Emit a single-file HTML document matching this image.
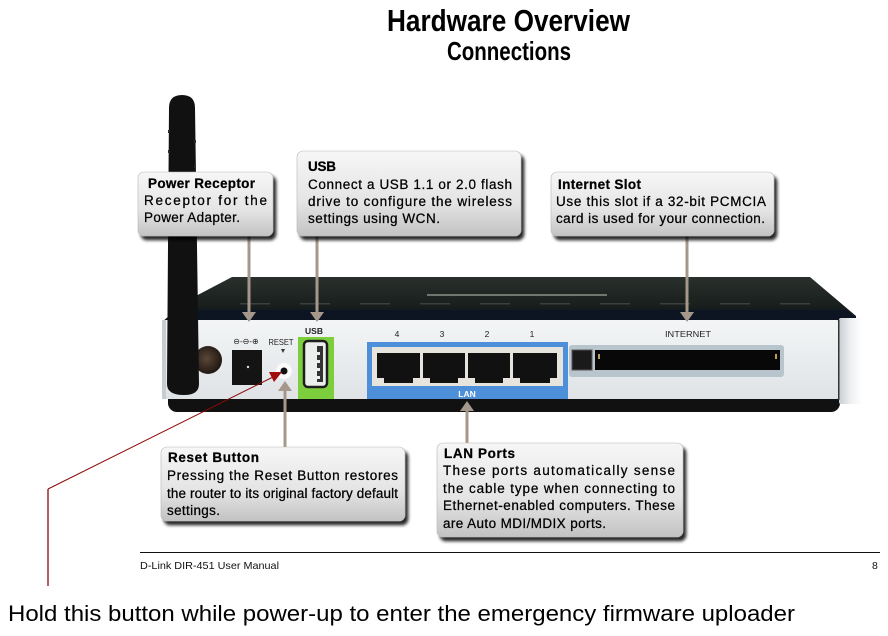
<!DOCTYPE html>
<html><head><meta charset="utf-8"><style>
html,body{margin:0;padding:0;background:#fff;}
svg{display:block;}
text{font-family:"Liberation Sans",Arial,sans-serif;}
</style></head><body>
<svg width="888" height="636" viewBox="0 0 888 636" xmlns="http://www.w3.org/2000/svg">
<defs>
<linearGradient id="boxg" x1="0" y1="0" x2="0" y2="1">
<stop offset="0" stop-color="#f6f6f6"/><stop offset="0.6" stop-color="#e4e4e4"/><stop offset="1" stop-color="#c2c2c2"/>
</linearGradient>
<linearGradient id="topg" x1="0" y1="0" x2="0" y2="1">
<stop offset="0" stop-color="#2a302c"/><stop offset="0.6" stop-color="#1a201d"/><stop offset="1" stop-color="#0b1220"/>
</linearGradient>
<linearGradient id="faceg" x1="0" y1="0" x2="0" y2="1">
<stop offset="0" stop-color="#f3f5f6"/><stop offset="1" stop-color="#dfe3e6"/>
</linearGradient>
<linearGradient id="rblock" x1="0" y1="0" x2="1" y2="0">
<stop offset="0" stop-color="#c9ced2"/><stop offset="0.5" stop-color="#eef0f2"/><stop offset="1" stop-color="#ffffff"/>
</linearGradient>
<radialGradient id="knob" cx="0.45" cy="0.45" r="0.6">
<stop offset="0" stop-color="#5a4636"/><stop offset="1" stop-color="#1c1410"/>
</radialGradient>
<filter id="sh" x="-10%" y="-15%" width="125%" height="140%">
<feGaussianBlur in="SourceAlpha" stdDeviation="1.6"/>
<feOffset dx="3" dy="4" result="o"/>
<feComponentTransfer><feFuncA type="linear" slope="0.85"/></feComponentTransfer>
<feMerge><feMergeNode/><feMergeNode in="SourceGraphic"/></feMerge>
</filter>
</defs>
<rect width="888" height="636" fill="#fff"/>

<!-- Title -->
<text x="387" y="31" font-size="31" font-weight="bold" textLength="243" lengthAdjust="spacingAndGlyphs">Hardware Overview</text>
<text x="447" y="60" font-size="26" font-weight="bold" textLength="124" lengthAdjust="spacingAndGlyphs">Connections</text>

<!-- Router bottom strip -->
<rect x="168" y="388" width="672" height="24" rx="9" fill="#111"/>
<!-- Router top -->
<polygon points="162,322 192,298 232,277 810,277 856,316 856,322" fill="url(#topg)"/>
<polygon points="176,310 846,310 856,318 856,322 162,322" fill="#0d1522"/>
<rect x="427" y="294" width="180" height="2" fill="#70756f"/>
<g fill="#3a403c">
<rect x="240" y="303" width="30" height="1.5"/><rect x="300" y="303" width="30" height="1.5"/><rect x="360" y="303" width="30" height="1.5"/><rect x="420" y="303" width="30" height="1.5"/><rect x="480" y="303" width="30" height="1.5"/><rect x="540" y="303" width="30" height="1.5"/><rect x="600" y="303" width="30" height="1.5"/><rect x="660" y="303" width="30" height="1.5"/><rect x="720" y="303" width="30" height="1.5"/><rect x="780" y="303" width="30" height="1.5"/>
</g>
<!-- Face -->
<rect x="162" y="320" width="678" height="79" rx="3" fill="url(#faceg)"/>
<rect x="162" y="320" width="4" height="79" fill="#c8ccd0"/>
<rect x="839" y="318" width="23" height="86" rx="2" fill="url(#rblock)"/>
<rect x="838" y="320" width="1.5" height="80" fill="#333"/>

<!-- Knob -->
<circle cx="208" cy="360" r="14" fill="url(#knob)"/>
<!-- Antenna -->
<path d="M169,108 Q169,95 182,95 Q195,95 195,108 L199,384 Q199,395 184,395 Q167,395 167,384 Z" fill="#111"/>
<g fill="#2a2a2a"><rect x="168" y="130" width="2" height="3"/><rect x="168" y="150" width="2" height="3"/><rect x="194" y="140" width="2" height="3"/><rect x="194" y="165" width="2" height="3"/></g>

<!-- Power jack -->
<text x="246" y="344" font-size="8" text-anchor="middle" fill="#222">&#8854;-&#8854;-&#8853;</text>
<rect x="232" y="350" width="30" height="35" fill="#141414"/>
<circle cx="248" cy="367" r="1.2" fill="#ddd"/>
<!-- Reset -->
<text x="281" y="345" font-size="8.5" text-anchor="middle" fill="#222" textLength="25" lengthAdjust="spacingAndGlyphs">RESET</text>
<polygon points="281,349 285,349 283,353" fill="#333"/>
<circle cx="284" cy="371" r="8" fill="#fafafa"/>
<circle cx="284" cy="371" r="3.5" fill="#111"/>

<!-- USB -->
<text x="314" y="334" font-size="8.5" font-weight="bold" text-anchor="middle" fill="#222">USB</text>
<rect x="298" y="337" width="36" height="62" fill="#7cce3c"/>
<rect x="304" y="341" width="23" height="46" rx="4" fill="#eceeee" stroke="#1e1e1e" stroke-width="2.5"/>
<rect x="317" y="346" width="6" height="36" fill="#333"/>
<g fill="#eee"><rect x="317" y="352" width="3" height="3"/><rect x="317" y="360" width="3" height="3"/><rect x="317" y="368" width="3" height="3"/><rect x="317" y="376" width="3" height="3"/></g>

<!-- LAN -->
<g font-size="8.5" fill="#222" text-anchor="middle">
<text x="397" y="337">4</text><text x="442" y="337">3</text><text x="487" y="337">2</text><text x="532" y="337">1</text>
</g>
<rect x="367" y="342" width="201" height="57" fill="#4d8fd9"/>
<rect x="372" y="347" width="191" height="39" fill="#e6e4dc"/>
<g fill="#111">
<path d="M377,353 H420 V378 H413 V383 H384 V378 H377 Z"/>
<path d="M423,353 H465 V378 H458 V383 H430 V378 H423 Z"/>
<path d="M468,353 H510 V378 H503 V383 H475 V378 H468 Z"/>
<path d="M513,353 H557 V378 H550 V383 H520 V378 H513 Z"/>
</g>
<text x="467" y="397" font-size="8.5" font-weight="bold" fill="#fff" text-anchor="middle">LAN</text>

<!-- Internet -->
<text x="688" y="337" font-size="8.5" fill="#222" text-anchor="middle" textLength="46" lengthAdjust="spacingAndGlyphs">INTERNET</text>
<rect x="569" y="345" width="215" height="32" rx="3" fill="#b9c5cd"/>
<rect x="572" y="350" width="20" height="20" fill="#1a1a1a" stroke="#555" stroke-width="1"/>
<rect x="595" y="350" width="185" height="20" fill="#080808"/>
<rect x="598" y="354" width="2" height="5" fill="#b9a060"/>
<rect x="775" y="354" width="2" height="5" fill="#b9a060"/>

<!-- Tan arrows -->
<g stroke="#a5988a" stroke-width="3" fill="none">
<line x1="249" y1="236" x2="249" y2="314"/>
<line x1="317" y1="236" x2="317" y2="314"/>
<line x1="687" y1="236" x2="687" y2="314"/>
<line x1="285" y1="389" x2="285" y2="448"/>
<line x1="467" y1="409" x2="467" y2="444"/>
</g>
<g fill="#a5988a">
<polygon points="242,312 256,312 249,322"/>
<polygon points="310,312 324,312 317,322"/>
<polygon points="680,312 694,312 687,322"/>
<polygon points="278,391 292,391 285,381"/>
<polygon points="460,411 474,411 467,401"/>
</g>

<!-- Red pointer -->
<line x1="48" y1="489" x2="273" y2="377" stroke="#8b0a0a" stroke-width="1"/>
<line x1="48" y1="489" x2="48" y2="586" stroke="#8b0a0a" stroke-width="1.3"/>
<polygon points="282,372 274,382 269,372" fill="#a00c0c"/>

<!-- Callouts -->
<g filter="url(#sh)">
<rect x="138" y="172" width="135" height="64" rx="6" fill="url(#boxg)" stroke="#b8b8b8" stroke-width="0.6"/>
<rect x="297" y="151" width="224" height="85" rx="6" fill="url(#boxg)" stroke="#b8b8b8" stroke-width="0.6"/>
<rect x="551" y="172" width="223" height="64" rx="6" fill="url(#boxg)" stroke="#b8b8b8" stroke-width="0.6"/>
<rect x="161" y="447" width="244" height="74" rx="6" fill="url(#boxg)" stroke="#b8b8b8" stroke-width="0.6"/>
<rect x="437" y="443" width="246" height="94" rx="6" fill="url(#boxg)" stroke="#b8b8b8" stroke-width="0.6"/>
</g>

<g font-size="13.5" fill="#000" stroke="#000" stroke-width="0.25">
<text x="148" y="188" font-weight="bold" textLength="107" lengthAdjust="spacing">Power Receptor</text>
<text x="144" y="205" textLength="123" lengthAdjust="spacing">Receptor for the</text>
<text x="144" y="222" textLength="96" lengthAdjust="spacing">Power Adapter.</text>

<text x="308" y="171" font-weight="bold" textLength="28" lengthAdjust="spacing">USB</text>
<text x="308" y="189" textLength="204" lengthAdjust="spacing">Connect a USB 1.1 or 2.0 flash</text>
<text x="308" y="206" textLength="204" lengthAdjust="spacing">drive to configure the wireless</text>
<text x="308" y="223" textLength="132" lengthAdjust="spacing">settings using WCN.</text>

<text x="558" y="189" font-weight="bold" textLength="83" lengthAdjust="spacing">Internet Slot</text>
<text x="556" y="206" textLength="210" lengthAdjust="spacing">Use this slot if a 32-bit PCMCIA</text>
<text x="556" y="223" textLength="209" lengthAdjust="spacing">card is used for your connection.</text>

<text x="168" y="462" font-weight="bold" textLength="91" lengthAdjust="spacing">Reset Button</text>
<text x="167" y="480" textLength="231" lengthAdjust="spacing">Pressing the Reset Button restores</text>
<text x="167" y="498" textLength="231" lengthAdjust="spacing">the router to its original factory default</text>
<text x="167" y="515" textLength="53" lengthAdjust="spacing">settings.</text>

<text x="444" y="458" font-weight="bold" textLength="71" lengthAdjust="spacing">LAN Ports</text>
<text x="443" y="475" textLength="232" lengthAdjust="spacing">These ports automatically sense</text>
<text x="443" y="493" textLength="232" lengthAdjust="spacing">the cable type when connecting to</text>
<text x="443" y="510" textLength="232" lengthAdjust="spacing">Ethernet-enabled computers. These</text>
<text x="443" y="528" textLength="163" lengthAdjust="spacing">are Auto MDI/MDIX ports.</text>
</g>

<!-- Footer -->
<line x1="140" y1="552.5" x2="880" y2="552.5" stroke="#111" stroke-width="1"/>
<text x="140" y="569" font-size="10.5" fill="#111" textLength="139" lengthAdjust="spacingAndGlyphs">D-Link DIR-451 User Manual</text>
<text x="872" y="569" font-size="10.5" fill="#111">8</text>

<text x="8" y="621" font-size="22" fill="#000" textLength="787" lengthAdjust="spacingAndGlyphs">Hold this button while power-up to enter the emergency firmware uploader</text>
</svg>
</body></html>
